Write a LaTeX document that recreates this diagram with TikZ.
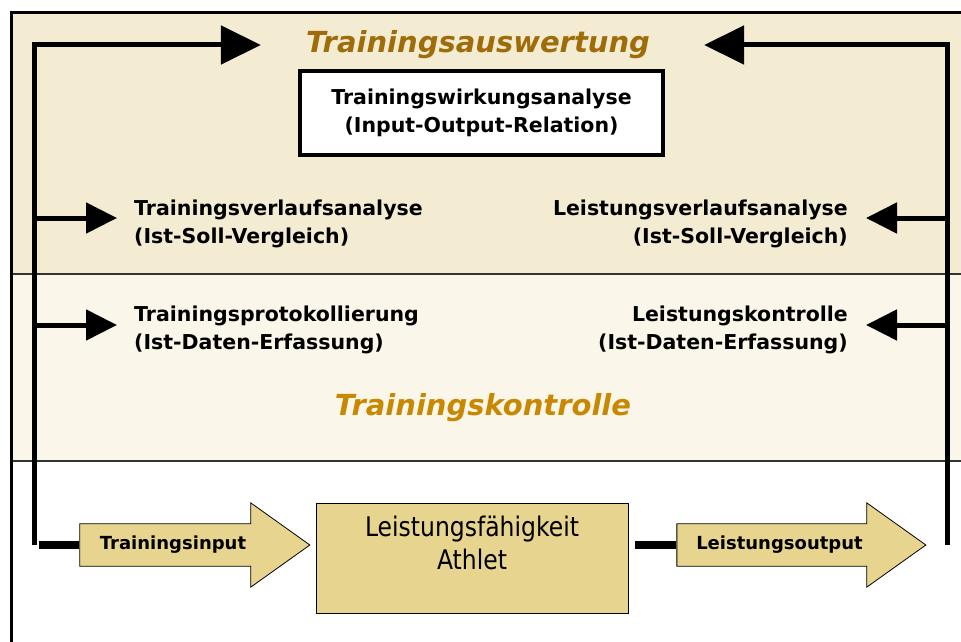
\documentclass[tikz,border=0pt]{standalone}
\usepackage{fontspec}
\setmainfont{DejaVu Sans}[ItalicFont={DejaVu Sans Oblique},BoldItalicFont={DejaVu Sans Bold Oblique}]
\usetikzlibrary{arrows.meta,shapes.arrows}
\definecolor{bandtop}{RGB}{243,235,210}
\definecolor{bandmid}{RGB}{250,246,233}
\definecolor{titletop}{RGB}{158,108,8}
\definecolor{titlemid}{RGB}{200,136,0}
\definecolor{tanfill}{RGB}{231,212,142}
\tikzset{
  txt/.style={inner sep=0pt, font=\fontsize{20.5}{28}\selectfont\bfseries, align=left},
  title/.style={inner sep=0pt, font=\fontsize{29}{34}\selectfont\bfseries\itshape},
  wbox/.style={txt, draw, fill=white, line width=4pt, align=center,
    minimum width=363pt, minimum height=84pt},
  ath/.style={draw, fill=tanfill, line width=0.8pt, align=center, text depth=30pt,
    minimum width=312pt, minimum height=110pt, font=\fontsize{27}{33}\selectfont},
  flow/.style={single arrow, draw, fill=tanfill, line width=0.8pt, inner xsep=0pt, inner ysep=12pt,
    single arrow head extend=21pt, single arrow tip angle=71, minimum width=84pt,
    font=\fontsize{18}{22}\selectfont\bfseries},
  sep/.style={line width=1.2pt, draw=black!80},
  fb/.style={line width=5pt},
  stub/.style={line width=8pt},
}
\begin{document}
\begin{tikzpicture}[x=1pt, y=-1pt, >={Triangle[length=31pt,width=30pt]}]
  \useasboundingbox (0,0) rectangle (961,642);
  \clip (0,0) rectangle (961,642);
  % bands
  \fill[bandtop] (11,13) rectangle (970,274);
  \fill[bandmid] (11,274) rectangle (970,461);
  \draw[sep] (11,274) -- (970,274);
  \draw[sep] (11,461) -- (970,461);
  \draw[line width=3pt] (970,13) -- (11,13) -- (11,650);

  % titles
  \node[title, text=titletop] (aus) at (478,45) {Trainingsauswertung};
  \node[title, text=titlemid] (kon) at (483,408) {Trainingskontrolle};

  % analysis and control texts
  \node[wbox] (wirk) at (481.5,113) {Trainingswirkungsanalyse\\(Input-Output-Relation)};
  \node[txt, anchor=west] (tva) at (134,224) {Trainingsverlaufsanalyse\\(Ist-Soll-Vergleich)};
  \node[txt, anchor=east, align=right] (lva) at (848,224) {Leistungsverlaufsanalyse\\(Ist-Soll-Vergleich)};
  \node[txt, anchor=west] (tpk) at (134,330) {Trainingsprotokollierung\\(Ist-Daten-Erfassung)};
  \node[txt, anchor=east, align=right] (lk) at (848,330) {Leistungskontrolle\\(Ist-Daten-Erfassung)};

  % process
  \node[ath] (ath) at (472,558) {\scalebox{0.87}[1]{Leistungsf\"ahigkeit}\\\scalebox{0.87}[1]{Athlet}};
  \node[flow, minimum height=230pt] (tin) at (180,545) {Trainingsinput\hspace*{14pt}};
  \node[flow, minimum height=249pt] (lout) at (786.5,545) {Leistungsoutput\hspace*{14pt}};

  % feedback loops
  \coordinate (lb) at (34,545);
  \coordinate (rb) at (947,545);
  \path (tva.west) ++(0,-6) coordinate (tva-in);
  \path (lva.east) ++(0,-6) coordinate (lva-in);
  \path (tpk.west) ++(0,-5) coordinate (tpk-in);
  \path (lk.east) ++(0,-5) coordinate (lk-in);
  \draw[fb, -{Triangle[length=40pt,width=38pt]}] (lb) |- ([xshift=-45pt]aus.west);
  \draw[fb, -{Triangle[length=40pt,width=38pt]}] (rb) |- ([xshift=54pt]aus.east);
  \draw[fb, ->, shorten >=17pt] (tva-in -| lb) -- (tva-in);
  \draw[fb, ->, shorten >=17pt] (tpk-in -| lb) -- (tpk-in);
  \draw[fb, ->, shorten >=18pt] (lva-in -| rb) -- (lva-in);
  \draw[fb, ->, shorten >=18pt] (lk-in -| rb) -- (lk-in);
  \draw[stub, shorten <=5pt] (lb) -- (tin.tail);
  \draw[stub, shorten <=7pt] (ath.east |- lout.tail) -- (lout.tail);
\end{tikzpicture}
\end{document}
